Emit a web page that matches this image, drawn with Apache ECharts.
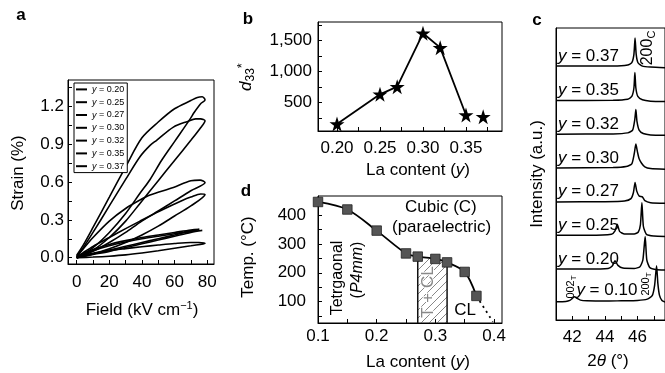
<!DOCTYPE html>
<html><head><meta charset="utf-8">
<script src="https://cdn.jsdelivr.net/npm/echarts@6/dist/echarts.min.js"></script>
<style>html,body{margin:0;padding:0;background:#fff}#c{width:665px;height:373px}</style>
</head><body><div id="c"></div>
<script>
// ---------- Panel a : strain loops ----------
const strainComps = ['0.20','0.25','0.27','0.30','0.32','0.35','0.37'];
const strain020 = [[0,0],[10,0.005],[20,0.012],[30,0.022],[40,0.037],[50,0.055],[60,0.075],[70,0.095],[78.7,0.113],[75,0.12],[70,0.12],[60,0.112],[50,0.1],[40,0.087],[30,0.072],[20,0.056],[10,0.035],[0,0.005]];
const strain025 = [[0,0],[10,0.03],[20,0.07],[30,0.12],[40,0.18],[50,0.25],[60,0.33],[70,0.41],[78.7,0.5],[76,0.505],[70,0.48],[65.4,0.457],[51,0.37],[38.8,0.29],[30,0.23],[20,0.16],[10,0.09],[4,0.04],[0,0.005]];
const strain027 = [[0,0],[10,0.05],[20,0.12],[30,0.2],[38.8,0.28],[50,0.37],[60,0.45],[70,0.53],[78.7,0.595],[75.7,0.615],[70,0.61],[59.3,0.557],[45,0.496],[38.8,0.457],[30,0.39],[20,0.29],[10,0.16],[4,0.07],[0,0.01]];
const strain030 = [[0,0],[10,0.08],[20,0.2],[30,0.35],[38.8,0.51],[45,0.62],[52,0.77],[60,0.92],[69.6,1.1],[72,1.15],[76,1.22],[78.7,1.25],[77,1.275],[74,1.27],[70,1.245],[60,1.18],[50,1.075],[40,0.95],[30,0.72],[20,0.48],[10,0.24],[4,0.1],[0,0.02]];
const strain032 = [[0,0],[10,0.06],[20,0.16],[30,0.29],[38.8,0.43],[50,0.61],[60,0.77],[70,0.93],[76,1.03],[78.7,1.085],[76,1.1],[73,1.1],[68,1.08],[59.3,1.035],[49,0.93],[45,0.89],[38.8,0.8],[30,0.62],[20,0.41],[10,0.2],[4,0.08],[0,0.01]];
const strain035 = [[0,0],[10,0.03],[20,0.06],[30,0.09],[40,0.12],[50,0.15],[60,0.18],[70,0.21],[75.2,0.225],[70,0.22],[60,0.2],[50,0.18],[40,0.16],[30,0.135],[20,0.105],[10,0.065],[0,0.01]];
const strain037 = [[0,0],[10,0.025],[20,0.05],[30,0.08],[40,0.11],[50,0.14],[60,0.17],[70,0.2],[77,0.215],[70,0.21],[60,0.19],[50,0.17],[40,0.15],[30,0.125],[20,0.095],[10,0.055],[0,0.005]];
const strainLoops = [strain020, strain025, strain027, strain030, strain032, strain035, strain037];
const aTicksX = [0,10,20,30,40,50,60,70,80];
const aLabelsX = [0,20,40,60,80];
const aTicksY = [0,0.15,0.3,0.45,0.6,0.75,0.9,1.05,1.2,1.35];
const aLabelsY = [0,0.3,0.6,0.9,1.2];

// ---------- Panel b : d33* ----------
const bComp = [0.20,0.25,0.27,0.30,0.32,0.35,0.37];
const bD33 = [156,635,758,1619,1387,302,274];
const bTicksX = [0.2,0.225,0.25,0.275,0.3,0.325,0.35,0.375];
const bLabelsX = [0.2,0.25,0.3,0.35];
const bTicksY = [250,500,750,1000,1250,1500,1750];
const bLabelsY = [500,1000,1500];

// ---------- Panel d : phase diagram ----------
const dComp = [0.10,0.15,0.20,0.25,0.27,0.30,0.32,0.35,0.37];
const dTemp = [445,419,346,267,256,248,236,203,120];
const dExtrap = [[0.37,120],[0.398,31]];
const dBounds = [0.27,0.32];
const dTicksX = [0.1,0.15,0.2,0.25,0.3,0.35,0.4];
const dLabelsX = [0.1,0.2,0.3,0.4];
const dTicksY = [50,100,150,200,250,300,350,400,450];
const dLabelsY = [100,200,300,400];

// ---------- Panel c : XRD ----------
const xrdComps = ['0.10','0.20','0.25','0.27','0.30','0.32','0.35','0.37'];
const xrd010 = [[41,0.06],[41.6,0.07],[41.85,0.1],[42.0,0.16],[42.13,0.21],[42.3,0.16],[42.5,0.11],[42.9,0.09],[44,0.08],[45,0.09],[46,0.1],[46.6,0.14],[46.9,0.24],[47.05,0.55],[47.17,1.13],[47.25,0.6],[47.35,0.25],[47.5,0.1],[47.7,0.05]];
const xrd020 = [[41,0.03],[43,0.03],[44.2,0.05],[44.45,0.12],[44.62,0.28],[44.8,0.14],[45.1,0.06],[45.8,0.05],[46.15,0.1],[46.33,0.3],[46.47,1.0],[46.57,0.3],[46.75,0.08],[47.1,0.02],[47.7,0.0]];
const xrd025 = [[41,0.03],[43,0.03],[44.4,0.06],[44.62,0.16],[44.76,0.36],[44.9,0.15],[45.2,0.07],[45.8,0.07],[46.05,0.13],[46.18,0.35],[46.27,1.0],[46.36,0.3],[46.55,0.06],[47,0.01],[47.7,0.0]];
const xrd027 = [[41,0.02],[44,0.03],[45.2,0.05],[45.6,0.12],[45.75,0.3],[45.85,0.6],[45.95,0.35],[46.1,0.2],[46.3,0.17],[46.45,0.06],[46.8,0.0],[47.7,-0.02]];
const xrd030 = [[41,0.03],[44.5,0.04],[45.3,0.07],[45.65,0.15],[45.8,0.45],[45.9,0.74],[46.0,0.5],[46.1,0.3],[46.25,0.17],[46.45,0.06],[46.8,0.01],[47.7,-0.01]];
const xrd032 = [[41,0.03],[44.5,0.04],[45.4,0.07],[45.7,0.15],[45.83,0.45],[45.9,0.76],[45.97,0.4],[46.1,0.15],[46.35,0.05],[46.8,0.01],[47.7,0]];
const xrd035 = [[41,0.03],[44.5,0.04],[45.4,0.07],[45.65,0.15],[45.78,0.4],[45.84,0.86],[45.9,0.4],[46.02,0.15],[46.3,0.05],[46.8,0.01],[47.7,0]];
const xrd037 = [[41,0.05],[44.5,0.05],[45.4,0.08],[45.65,0.15],[45.78,0.4],[45.85,0.88],[45.92,0.4],[46.03,0.15],[46.3,0.05],[46.8,0.02],[47.7,0]];
const xrdTraces = [xrd010, xrd020, xrd025, xrd027, xrd030, xrd032, xrd035, xrd037];
const cTicksX = [42,43,44,45,46,47];
const cLabelsX = [42,44,46];

// ---------- layout / style ----------
const FONT = '"Liberation Sans", Arial, Helvetica, sans-serif';
const BLACK = '#000';
const chart = echarts.init(document.getElementById('c'), null, {renderer:'canvas'});

function valAxis(gi, min, max, ticks, labels, fmt, margin, showLabel) {
  return {
    type:'value', gridIndex:gi, min:min, max:max,
    axisLine:{show:true, onZero:false, lineStyle:{color:BLACK, width:1}},
    axisTick:{show:ticks.length>0, inside:true, length:4, customValues:ticks, lineStyle:{color:BLACK, width:1}},
    axisLabel:{show:showLabel!==false, customValues:labels, formatter:fmt, margin:margin, fontSize:17, color:BLACK, fontFamily:FONT},
    splitLine:{show:false}
  };
}

// hatch pattern
const hatch = document.createElement('canvas');
hatch.width = 8; hatch.height = 8;
(function(){
  const g = hatch.getContext('2d');
  g.strokeStyle = '#555'; g.lineWidth = 0.7;
  g.beginPath(); g.moveTo(0,8); g.lineTo(8,0); g.moveTo(-2,2); g.lineTo(2,-2); g.moveTo(6,10); g.lineTo(10,6); g.stroke();
})();

const grids = [
  {left:68, top:80, width:146, height:184},   // a
  {left:318, top:22, width:184, height:109},  // b
  {left:318, top:196, width:184, height:127}, // d
  {left:556, top:28, width:112, height:292}   // c
].map(g => Object.assign({show:true, borderColor:BLACK, borderWidth:1, backgroundColor:'transparent'}, g));

const fmt1 = v => v.toFixed(1);
const fmt2 = v => v.toFixed(2);
const fmtK = v => v >= 1000 ? Math.floor(v/1000) + ',' + String(v%1000).padStart(3,'0') : String(v);

const xAxes = [
  valAxis(0, -5.34, 84.2, aTicksX, aLabelsX, v=>String(v), 10),
  valAxis(1, 0.1779, 0.3919, bTicksX, bLabelsX, fmt2, 9),
  valAxis(2, 0.1, 0.4136, dTicksX, dLabelsX, fmt1, 5),
  valAxis(3, 41, 47.687, cTicksX, cLabelsX, v=>String(v), 9)
];
const yAxes = [
  valAxis(0, -0.05, 1.408, aTicksY, aLabelsY, fmt1, 4),
  valAxis(1, 43.5, 1801, bTicksY, bLabelsY, fmtK, 6),
  valAxis(2, 26.3, 465.7, dTicksY, dLabelsY, v=>String(v), 12),
  valAxis(3, 0, 8.66, [], [], v=>'', 0, false)
];

const series = [];
// a
strainLoops.forEach((loop, i) => {
  series.push({
    name: strainComps[i], type:'line', xAxisIndex:0, yAxisIndex:0,
    data: loop, smooth:0.3, showSymbol:false, symbol:'none',
    lineStyle:{color:BLACK, width:1.6}, itemStyle:{color:BLACK}, z:3
  });
});
// b
const STAR = 'path://M50,0 L61.8,35.3 L99,35.3 L69,57.1 L80.3,92.6 L50,70.8 L19.7,92.6 L31,57.1 L1,35.3 L38.2,35.3 Z';
series.push({
  type:'line', xAxisIndex:1, yAxisIndex:1,
  data: bComp.slice(0,6).map((x,i)=>[x,bD33[i]]),
  symbol:STAR, symbolSize:15, showSymbol:true,
  lineStyle:{color:BLACK, width:1.8}, itemStyle:{color:BLACK, opacity:1}, z:3
});
series.push({
  type:'scatter', xAxisIndex:1, yAxisIndex:1,
  data: bComp.slice(6).map((x,i)=>[x,bD33[6+i]]),
  symbol:STAR, symbolSize:15, itemStyle:{color:BLACK, opacity:1}, z:3
});
// d : hatched two-phase region
const tAt = x => dTemp[dComp.indexOf(x)];
series.push({
  type:'line', xAxisIndex:2, yAxisIndex:2,
  data: dComp.filter(x => x>=dBounds[0] && x<=dBounds[1]).map(x=>[x,tAt(x)]),
  symbol:'none', lineStyle:{width:0}, smooth:0.3,
  areaStyle:{origin:'start', color:{image:hatch, repeat:'repeat'}, opacity:1}, z:1
});
dBounds.forEach(b => {
  series.push({
    type:'line', xAxisIndex:2, yAxisIndex:2,
    data: [[b, 26.3],[b, tAt(b)]], symbol:'none',
    lineStyle:{color:'#111', width:1.5}, z:2
  });
});
series.push({
  type:'line', xAxisIndex:2, yAxisIndex:2,
  data: dComp.map((x,i)=>[x,dTemp[i]]), smooth:0.3,
  symbol:'rect', symbolSize:9.5, showSymbol:true,
  lineStyle:{color:BLACK, width:1.8},
  itemStyle:{color:'#555', borderColor:'#222', borderWidth:0.8}, z:4
});
series.push({
  type:'line', xAxisIndex:2, yAxisIndex:2, data:dExtrap, symbol:'none',
  lineStyle:{color:BLACK, width:1.8, type:[2,4]}, z:3
});
// c
xrdTraces.forEach((tr, i) => {
  const off = i + 0.48;
  series.push({
    type:'line', xAxisIndex:3, yAxisIndex:3,
    data: tr.map(p => [p[0], p[1] + off]), smooth:0.2, symbol:'none',
    lineStyle:{color:BLACK, width:1.5}, z:3
  });
});
series.push({
  type:'scatter', xAxisIndex:3, yAxisIndex:3, symbolSize:0, silent:true,
  itemStyle:{opacity:1},
  data: xrdComps.map((c,i) => i===0 ? [42.25, i+0.48+0.41, c] : [41.12, i+0.48+0.33, c]),
  label:{show:true, position:'right', distance:0, fontSize:17, fontFamily:FONT, color:BLACK, opacity:1,
    formatter: p => '{i|y} = ' + p.data[2],
    rich:{i:{fontStyle:'italic', fontSize:17, fontFamily:FONT, color:BLACK}}},
  z:5
});

function txt(x, y, text, o) {
  o = o || {};
  return {
    type:'text', x:x, y:y, rotation:o.rot||0, z:20,
    style:Object.assign({text:text, fill:o.color||BLACK, fontSize:o.size||17, fontFamily:FONT,
      fontWeight:o.weight||'normal', align:o.align||'center', verticalAlign:'middle', rich:o.rich||{}}, o.style||{})
  };
}
const R90 = Math.PI/2;
const graphics = [
  txt(21, 15, 'a', {weight:'bold', size:17}),
  txt(248, 19, 'b', {weight:'bold', size:17}),
  txt(537, 20, 'c', {weight:'bold', size:17}),
  txt(246, 191, 'd', {weight:'bold', size:17}),
  txt(18, 173, 'Strain (%)', {rot:R90}),
  txt(142, 310, 'Field (kV cm{s|−1})', {rich:{s:{fontSize:11, verticalAlign:'top', padding:[0,0,9,0], fontFamily:FONT}}}),
  txt(246, 77, '{i|d}{sub|33}{sup|*}', {rot:R90, rich:{
      i:{fontStyle:'italic', fontSize:17, fontFamily:FONT, lineHeight:24},
      sub:{fontSize:12, fontFamily:FONT, padding:[10,0,0,0], lineHeight:24},
      sup:{fontSize:13, fontFamily:FONT, padding:[0,0,8,0], lineHeight:24}}}),
  txt(418, 170, 'La content ({i|y})', {rich:{i:{fontStyle:'italic', fontSize:17, fontFamily:FONT}}}),
  txt(418, 362, 'La content ({i|y})', {rich:{i:{fontStyle:'italic', fontSize:17, fontFamily:FONT}}}),
  txt(248, 257, 'Temp. (°C)', {rot:R90}),
  txt(537, 174, 'Intensity (a.u.)', {rot:R90}),
  txt(608, 361, '2{i|θ} (°)', {rich:{i:{fontStyle:'italic', fontSize:17, fontFamily:FONT}}}),
  txt(405, 207, 'Cubic (C)', {align:'left'}),
  txt(392, 227, '(paraelectric)', {align:'left'}),
  txt(465, 310, 'CL'),
  txt(428, 292, 'T + CL', {rot:R90, color:'#888', style:{stroke:'#fff', lineWidth:2}}),
  txt(338, 278, 'Tetrgaonal', {rot:R90, size:16}),
  txt(358, 270, '({i|P4mm})', {rot:R90, size:16, rich:{i:{fontStyle:'italic', fontSize:16, fontFamily:FONT}}}),
  txt(648, 48, '200{s|C}', {rot:R90, size:16, rich:{s:{fontSize:11, fontFamily:FONT, padding:[8,0,0,0]}}}),
  txt(571, 287, '002{s|T}', {rot:R90, size:11, rich:{s:{fontSize:8, fontFamily:FONT, padding:[6,0,0,0]}}}),
  txt(645.5, 284, '200{s|T}', {rot:R90, size:11, rich:{s:{fontSize:8, fontFamily:FONT, padding:[6,0,0,0]}}})
];

chart.setOption({
  animation:false,
  backgroundColor:'#fff',
  textStyle:{fontFamily:FONT},
  grid:grids, xAxis:xAxes, yAxis:yAxes, series:series,
  legend:{
    show:true, orient:'vertical', left:74, top:83, itemWidth:11, itemHeight:2, itemGap:0,
    padding:[0,3,0,2], borderColor:BLACK, borderWidth:1, backgroundColor:'#fff', icon:'rect',
    data:strainComps, selectedMode:false, z:10,
    textStyle:{fontSize:9, lineHeight:12.8, color:BLACK, fontFamily:FONT,
      rich:{i:{fontStyle:'italic', fontSize:9, lineHeight:12.8, fontFamily:FONT, color:BLACK}}},
    formatter: n => '{i|y} = ' + n
  },
  graphic:graphics
});
</script></body></html>
